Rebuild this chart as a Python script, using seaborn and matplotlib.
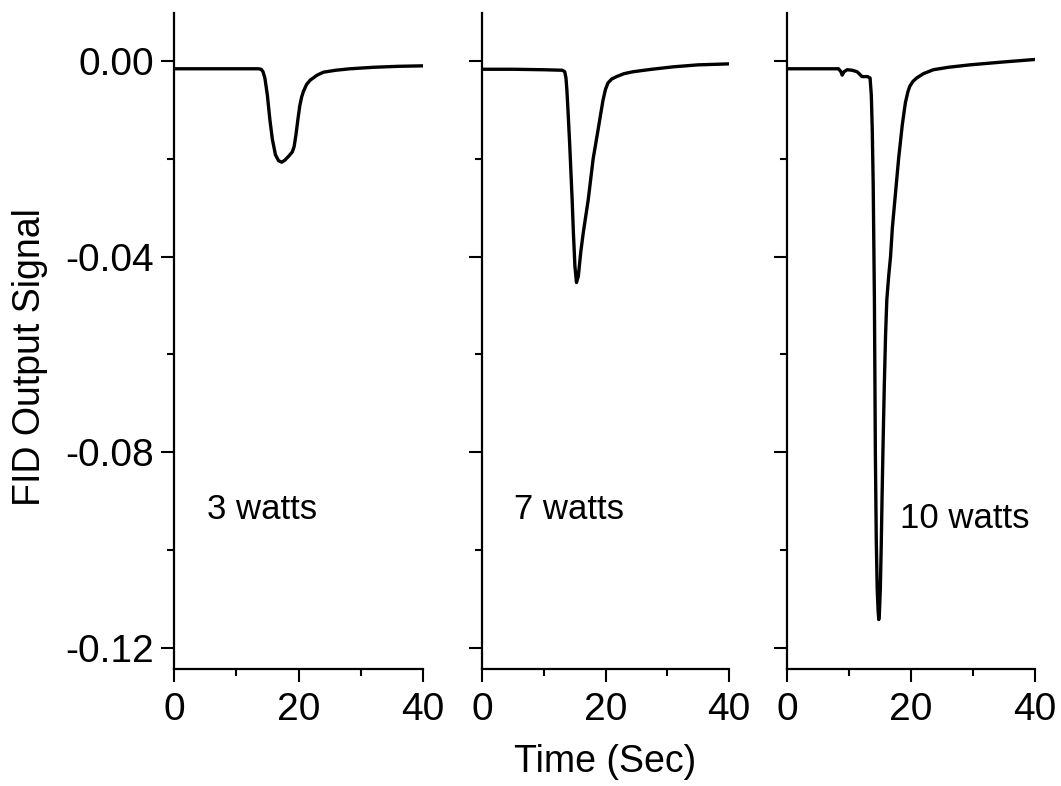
import numpy as np
import pandas as pd
import matplotlib
matplotlib.use("Agg")
import matplotlib.pyplot as plt
from matplotlib.ticker import MultipleLocator, FuncFormatter
import seaborn as sns

# FID traces, time in seconds and detector output
time_3w = [0, 5, 10, 13.5, 14.0, 14.3, 14.6, 15.0, 15.4, 15.8, 16.3, 16.8, 17.3,
           17.8, 18.4, 19.0, 19.3, 19.6, 19.9, 20.2, 20.5, 20.8, 21.3, 21.9, 23.0,
           24.0, 26.0, 28.3, 32.0, 36.0, 40.0]
signal_3w = [-0.0016, -0.0016, -0.0016, -0.0016, -0.0017, -0.0022, -0.0035, -0.0070,
             -0.0120, -0.0160, -0.0192, -0.0204, -0.0207, -0.0203, -0.0195, -0.0186,
             -0.0175, -0.0150, -0.0120, -0.0092, -0.0074, -0.0062, -0.0048, -0.0039,
             -0.0029, -0.0023, -0.0019, -0.0016, -0.0013, -0.0011, -0.0010]

time_7w = [0, 5, 10, 13.0, 13.4, 13.6, 13.75, 13.9, 14.2, 14.6, 14.8, 15.05, 15.3,
           15.6, 16.0, 16.4, 17.2, 18.0, 18.7, 19.2, 19.6, 20.0, 20.4, 21.0, 21.8,
           23.0, 24.5, 27.5, 31.0, 35.0, 40.0]
signal_7w = [-0.0017, -0.0017, -0.0018, -0.0019, -0.0022, -0.0035, -0.0060, -0.0095,
             -0.0170, -0.0284, -0.0351, -0.0420, -0.0453, -0.0440, -0.0390, -0.0351,
             -0.0284, -0.0200, -0.0148, -0.0110, -0.0080, -0.0058, -0.0045, -0.0037,
             -0.0032, -0.0026, -0.0022, -0.0017, -0.0012, -0.0008, -0.0006]

time_10w = [0, 5, 8.3, 8.7, 8.9, 9.2, 9.7, 10.5, 11.3, 11.7, 12.1, 13.0, 13.4, 13.6,
            13.75, 13.9, 14.1, 14.25, 14.4, 14.55, 14.7, 14.8, 14.9, 15.05, 15.2,
            15.35, 15.5, 15.7, 15.9, 16.1, 16.4, 16.7, 17.0, 17.4, 18.0, 18.6, 19.1,
            19.5, 19.8, 20.3, 20.9, 22.0, 23.6, 26.0, 29.5, 35.0, 40.0]
signal_10w = [-0.0016, -0.0016, -0.0016, -0.0022, -0.0029, -0.0022, -0.0018, -0.0019,
              -0.0022, -0.0027, -0.0032, -0.0032, -0.0035, -0.0070, -0.0140, -0.0250,
              -0.0490, -0.0800, -0.0980, -0.1080, -0.1125, -0.1142, -0.1130, -0.1080,
              -0.0990, -0.0880, -0.0780, -0.0660, -0.0560, -0.0488, -0.0440, -0.0400,
              -0.0340, -0.0284, -0.0200, -0.0130, -0.0085, -0.0063, -0.0052, -0.0042,
              -0.0035, -0.0026, -0.0018, -0.0013, -0.0008, -0.0002, 0.0003]

panel_labels = ["3 watts", "7 watts", "10 watts"]
label_pos = [(5.25, -0.0937), (5.2, -0.0937), (18.2, -0.0955)]

traces = pd.concat([
    pd.DataFrame({"time": time_3w, "signal": signal_3w, "power": panel_labels[0]}),
    pd.DataFrame({"time": time_7w, "signal": signal_7w, "power": panel_labels[1]}),
    pd.DataFrame({"time": time_10w, "signal": signal_10w, "power": panel_labels[2]}),
])

sns.set_theme(style="ticks")
plt.rcParams["font.family"] = ["Liberation Sans", "DejaVu Sans"]
plt.rcParams["axes.unicode_minus"] = False

W, H = 1061, 786
fig = plt.figure(figsize=(W / 100, H / 100), dpi=100)

lefts = [174, 482, 787]
rights = [423, 729, 1035]
top_px, bottom_px = 13, 669

for i, (l, r) in enumerate(zip(lefts, rights)):
    ax = fig.add_axes([l / W, 1 - bottom_px / H, (r - l) / W, (bottom_px - top_px) / H])
    sub = traces[traces["power"] == panel_labels[i]]
    sns.lineplot(data=sub, x="time", y="signal", ax=ax, color="black",
                 linewidth=2.4, sort=False, estimator=None, legend=False)
    ax.set_xlim(0, 40)
    ax.set_ylim(-0.1243, 0.0098)
    ax.xaxis.set_major_locator(MultipleLocator(20))
    ax.xaxis.set_minor_locator(MultipleLocator(10))
    ax.yaxis.set_major_locator(MultipleLocator(0.04))
    ax.yaxis.set_minor_locator(MultipleLocator(0.02))
    for side in ("top", "right"):
        ax.spines[side].set_visible(False)
    for side in ("left", "bottom"):
        ax.spines[side].set_linewidth(1.6)
        ax.spines[side].set_color("black")
    ax.tick_params(which="major", direction="out", length=9.5, width=1.5,
                   color="black", labelsize=28, labelcolor="black", pad=5)
    ax.tick_params(axis="x", which="major", pad=7)
    ax.tick_params(which="minor", direction="out", length=5, width=1.5, color="black")
    ax.set_xlabel("")
    ax.set_ylabel("")
    if i == 0:
        ax.yaxis.set_major_formatter(FuncFormatter(lambda v, p: f"{v:.2f}".replace("-0.00", "0.00")))
    else:
        ax.tick_params(axis="y", labelleft=False)
    tx, ty = label_pos[i]
    ax.text(tx, ty, panel_labels[i], fontsize=25, ha="left", va="baseline", color="black")

fig.text(30 / W, 1 - 357 / H, "FID Output Signal", rotation=90, fontsize=27,
         ha="center", va="center", color="black")
fig.text(605 / W, 1 - 762 / H, "Time (Sec)", fontsize=27,
         ha="center", va="center", color="black")

fig.savefig("out.png", dpi=100, facecolor="white")
